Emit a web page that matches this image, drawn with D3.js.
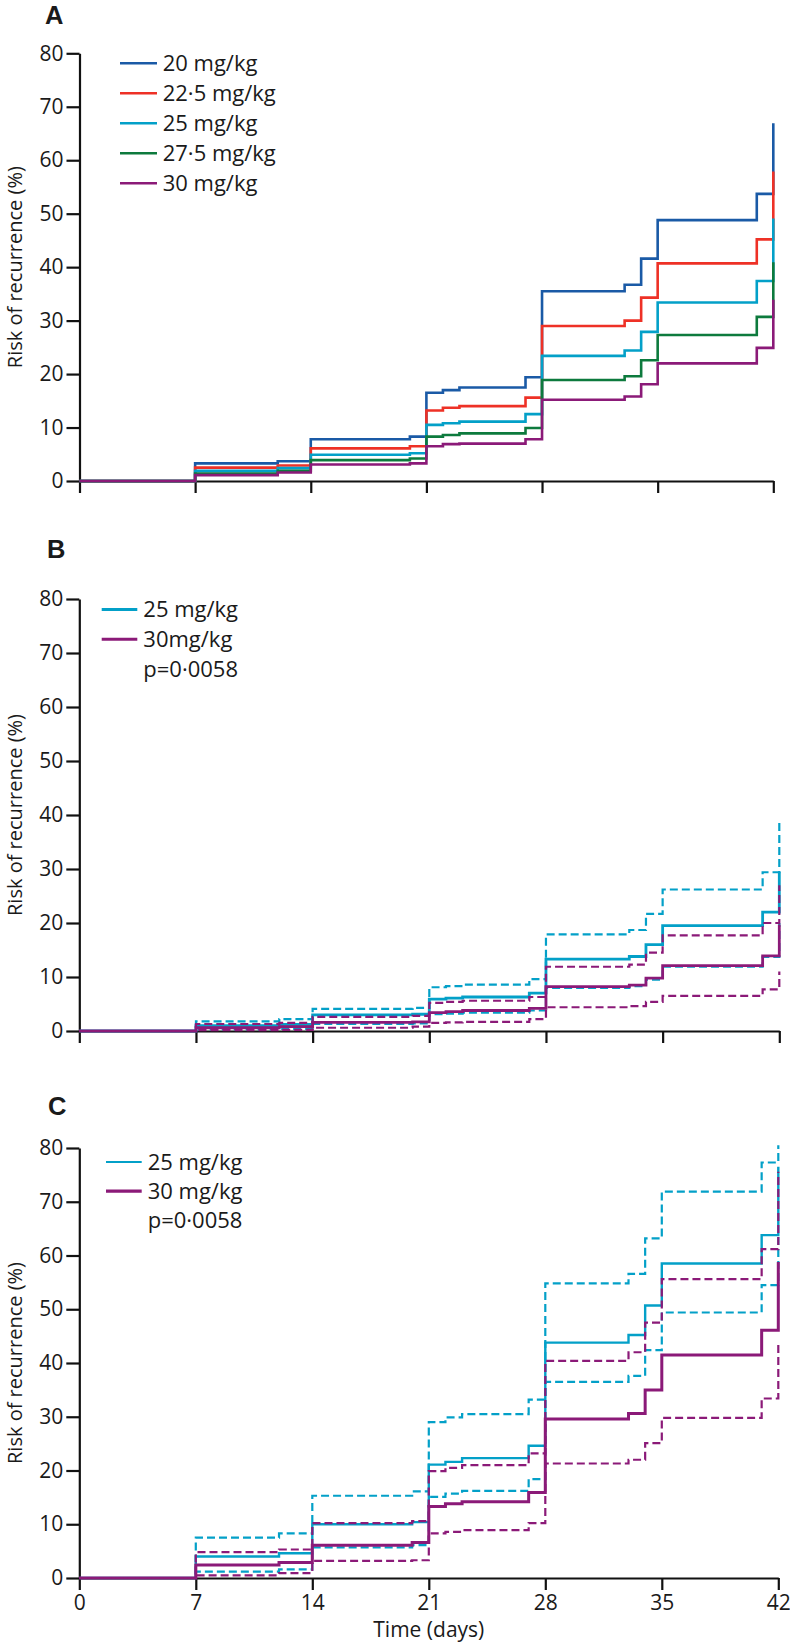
<!DOCTYPE html>
<html><head><meta charset="utf-8">
<script src="https://cdn.jsdelivr.net/npm/d3@7"></script>
<style>
body{margin:0;background:#fff}
svg{display:block}
text{font-family:"Open Sans",sans-serif;fill:#1a1a1a}
</style>
</head><body>
<svg id="chart" width="790" height="1646"></svg>
<script>
// ---------- DATA ----------
const times = [0, 7, 12, 14, 20, 21, 22, 23, 27, 28, 33, 34, 35, 41, 42];
const xTicks = [0, 7, 14, 21, 28, 35, 42];
const yTicks = [0, 10, 20, 30, 40, 50, 60, 70, 80];
const xTitle = "Time (days)";
const yTitle = "Risk of recurrence (%)";
const pValue = "p=0·0058";

// Panel A: modelled risk by dose
const doseLabelsA = ["20 mg/kg", "22·5 mg/kg", "25 mg/kg", "27·5 mg/kg", "30 mg/kg"];
const riskA20   = [0, 3.3, 3.7, 7.8, 8.3, 16.5, 17.0, 17.5, 19.4, 35.5, 36.7, 41.6, 48.8, 53.7, 66.9];
const riskA22_5 = [0, 2.5, 2.9, 6.1, 6.5, 13.2, 13.7, 14.0, 15.6, 29.0, 30.0, 34.3, 40.7, 45.2, 57.9];
const riskA25   = [0, 1.9, 2.4, 4.9, 5.2, 10.5, 10.8, 11.1, 12.5, 23.4, 24.4, 27.9, 33.4, 37.4, 49.1];
const riskA27_5 = [0, 1.4, 1.9, 3.9, 4.2, 8.3, 8.6, 8.9, 9.9, 18.9, 19.6, 22.6, 27.3, 30.7, 40.9];
const riskA30   = [0, 1.1, 1.6, 3.1, 3.3, 6.5, 6.9, 7.0, 7.8, 15.2, 15.8, 18.1, 22.0, 24.9, 33.9];

// Panel B
const doseLabelsB = ["25 mg/kg", "30mg/kg"];
const riskB25      = [0, 1.0, 1.2, 3.0, 3.1, 5.9, 6.1, 6.3, 7.0, 13.3, 13.8, 16.0, 19.5, 22.0, 29.5];
const riskB25Upper = [0, 1.8, 2.2, 4.1, 4.3, 8.1, 8.3, 8.6, 9.6, 17.9, 18.7, 21.7, 26.2, 29.4, 39.1];
const riskB25Lower = [0, 0.3, 0.4, 1.3, 1.4, 3.1, 3.2, 3.4, 3.8, 8.0, 8.3, 9.5, 11.9, 13.7, 20.0];
const riskB30      = [0, 0.6, 0.8, 1.6, 1.7, 3.4, 3.6, 3.8, 4.2, 8.2, 8.5, 9.8, 12.1, 13.9, 19.7];
const riskB30Upper = [0, 1.3, 1.5, 2.6, 2.8, 5.2, 5.4, 5.6, 6.3, 11.9, 12.3, 14.5, 17.7, 20.0, 27.0];
const riskB30Lower = [0, 0.15, 0.2, 0.6, 0.8, 1.5, 1.6, 1.7, 2.2, 4.4, 4.6, 5.4, 6.5, 7.7, 11.0];

// Panel C
const doseLabelsC = ["25 mg/kg", "30 mg/kg"];
const riskC25      = [0, 4.0, 4.6, 10.0, 10.4, 21.1, 21.6, 22.3, 24.6, 43.8, 45.2, 50.7, 58.5, 63.8, 76.5];
const riskC25Upper = [0, 7.5, 8.3, 15.3, 16.1, 29.0, 29.9, 30.5, 33.2, 54.8, 56.6, 63.2, 71.9, 77.3, 80.5];
const riskC25Lower = [0, 1.2, 1.6, 5.7, 6.1, 15.1, 15.7, 16.2, 18.4, 36.5, 37.6, 42.4, 49.4, 54.5, 64.0];
const riskC30      = [0, 2.4, 2.9, 6.1, 6.6, 13.3, 13.8, 14.2, 15.9, 29.6, 30.6, 35.0, 41.5, 46.1, 58.8];
const riskC30Upper = [0, 4.8, 5.3, 10.2, 10.6, 19.9, 20.5, 21.0, 23.2, 40.4, 42.0, 47.5, 55.6, 61.2, 75.6];
const riskC30Lower = [0, 0.5, 0.9, 3.2, 3.3, 8.3, 8.6, 8.9, 10.2, 21.3, 22.0, 25.1, 29.8, 33.4, 44.0];

// ---------- STYLE ----------
const COL = {blue:"#1a5aa6", red:"#ee3126", cyan:"#03a0c8", green:"#0d7a3d", purple:"#8b1a78"};
const DASH = "8,4";

const svg = d3.select("#chart");

function drawPanel(cfg) {
  const x = d3.scaleLinear().domain([0, 42]).range([cfg.x0, cfg.x1]);
  const y = d3.scaleLinear().domain([0, 80]).range([cfg.yBottom, cfg.yTop]);
  const g = svg.append("g");

  // panel letter
  g.append("text").attr("x", cfg.letterX).attr("y", cfg.letterY)
    .attr("font-size", 25.5).attr("font-weight", 700)
    .style("font-family", '"Liberation Sans",Arial,sans-serif').text(cfg.letter);

  // y axis
  const ya = g.append("g").attr("transform", `translate(${cfg.x0},0)`)
    .call(d3.axisLeft(y).tickValues(yTicks).tickSize(13).tickPadding(3).tickSizeOuter(0));
  // x axis
  const xAxis = d3.axisBottom(x).tickValues(xTicks).tickSize(12).tickPadding(5).tickSizeOuter(0);
  if (!cfg.xLabels) xAxis.tickFormat("");
  const xa = g.append("g").attr("transform", `translate(0,${cfg.yBottom})`).call(xAxis);

  [ya, xa].forEach(a => {
    a.select(".domain").attr("stroke", "#111").attr("stroke-width", 2.2);
    a.selectAll(".tick line").attr("stroke", "#111").attr("stroke-width", 2.2);
    a.selectAll(".tick text").attr("font-size", 21).attr("fill", "#1a1a1a")
      .style("font-family", '"Open Sans",sans-serif');
  });

  // y title
  g.append("text")
    .attr("transform", `translate(21.8,${(cfg.yTop + cfg.yBottom) / 2}) rotate(-90)`)
    .attr("text-anchor", "middle").attr("font-size", 20).text(yTitle);

  if (cfg.xLabels) {
    g.append("text").attr("x", (cfg.x0 + cfg.x1) / 2).attr("y", cfg.yBottom + 59)
      .attr("text-anchor", "middle").attr("font-size", 21).text(xTitle);
  }

  // series
  const line = d3.line().x(d => x(d[0])).y(d => y(d[1])).curve(d3.curveStepAfter);
  cfg.series.forEach(s => {
    g.append("path").datum(times.map((t, i) => [t, s.values[i]]))
      .attr("d", line).attr("fill", "none").attr("stroke", s.color)
      .attr("stroke-width", s.width).attr("stroke-dasharray", s.dash || null)
      .attr("stroke-linejoin", "miter");
  });

  // legend
  const L = cfg.legend;
  L.items.forEach((it, i) => {
    const yy = L.y + i * L.dy;
    g.append("line").attr("x1", L.x1).attr("x2", L.x2).attr("y1", yy).attr("y2", yy)
      .attr("stroke", it.color).attr("stroke-width", it.width);
    g.append("text").attr("x", L.tx).attr("y", yy + 7.6).attr("font-size", 22).text(it.label);
  });
  if (L.p) {
    g.append("text").attr("x", L.tx).attr("y", L.y + L.items.length * L.dy + 7.6)
      .attr("font-size", 22).text(pValue);
  }
}

// Panel A
drawPanel({
  letter: "A", letterX: 45, letterY: 23.5,
  x0: 79.5, x1: 773.3, yTop: 53.3, yBottom: 481, xLabels: false,
  series: [
    {values: riskA20, color: COL.blue, width: 2.6},
    {values: riskA22_5, color: COL.red, width: 2.6},
    {values: riskA25, color: COL.cyan, width: 2.6},
    {values: riskA27_5, color: COL.green, width: 2.6},
    {values: riskA30, color: COL.purple, width: 2.6}
  ],
  legend: {x1: 120, x2: 157, tx: 162.7, y: 63.3, dy: 30, p: false,
    items: [
      {label: doseLabelsA[0], color: COL.blue, width: 2.5},
      {label: doseLabelsA[1], color: COL.red, width: 2.5},
      {label: doseLabelsA[2], color: COL.cyan, width: 2.5},
      {label: doseLabelsA[3], color: COL.green, width: 2.5},
      {label: doseLabelsA[4], color: COL.purple, width: 2.5}
    ]}
});

// Panel B
drawPanel({
  letter: "B", letterX: 47, letterY: 558,
  x0: 79.3, x1: 779.3, yTop: 599, yBottom: 1031, xLabels: false,
  series: [
    {values: riskB25Upper, color: COL.cyan, width: 2.2, dash: DASH},
    {values: riskB25Lower, color: COL.cyan, width: 2.2, dash: DASH},
    {values: riskB25, color: COL.cyan, width: 2.8},
    {values: riskB30Upper, color: COL.purple, width: 2.2, dash: DASH},
    {values: riskB30, color: COL.purple, width: 2.8},
    {values: riskB30Lower, color: COL.purple, width: 2.2, dash: DASH}
  ],
  legend: {x1: 101.7, x2: 137.3, tx: 143.3, y: 609.5, dy: 29.8, p: true,
    items: [
      {label: doseLabelsB[0], color: COL.cyan, width: 3},
      {label: doseLabelsB[1], color: COL.purple, width: 3}
    ]}
});

// Panel C
drawPanel({
  letter: "C", letterX: 48, letterY: 1114.6,
  x0: 79.3, x1: 778.3, yTop: 1148, yBottom: 1578, xLabels: true,
  series: [
    {values: riskC25Upper, color: COL.cyan, width: 2.2, dash: DASH},
    {values: riskC25Lower, color: COL.cyan, width: 2.2, dash: DASH},
    {values: riskC25, color: COL.cyan, width: 2.4},
    {values: riskC30Upper, color: COL.purple, width: 2.2, dash: DASH},
    {values: riskC30, color: COL.purple, width: 3},
    {values: riskC30Lower, color: COL.purple, width: 2.2, dash: DASH}
  ],
  legend: {x1: 106, x2: 141.7, tx: 147.7, y: 1162, dy: 29.2, p: true,
    items: [
      {label: doseLabelsC[0], color: COL.cyan, width: 2.2},
      {label: doseLabelsC[1], color: COL.purple, width: 3.2}
    ]}
});
</script>
</body></html>
